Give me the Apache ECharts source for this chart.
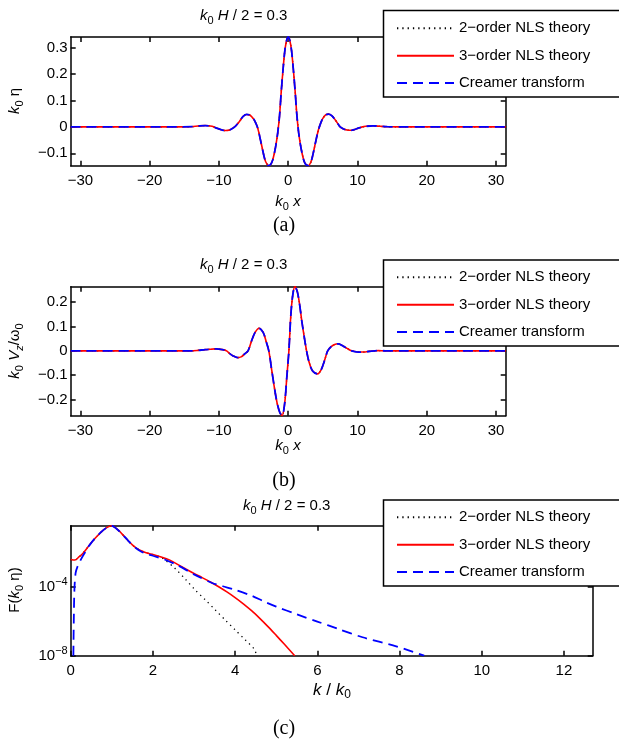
<!DOCTYPE html>
<html><head><meta charset="utf-8">
<script src="https://cdn.jsdelivr.net/npm/echarts@6/dist/echarts.min.js"></script>
<style>html,body{margin:0;padding:0;background:#fff}#c{width:619px;height:741px}</style>
</head><body><div id="c"></div>
<script>
// ---------- data ----------
const seriesNames = ['2\u2212order NLS theory', '3\u2212order NLS theory', 'Creamer transform'];

// (a) k0*eta vs k0*x  (the three curves coincide at this scale)
const xA = [-31.4,-20,-16,-14,-13,-12,-11,-10.5,-10,-9.5,-9,-8.5,-8,-7.6,-7,-6.5,-6,-5.5,-5,-4.75,-4.5,-4.25,-4,-3.75,-3.5,-3.25,-2.8,-2.5,-2.25,-2,-1.75,-1.5,-1.25,-1,-0.75,-0.5,-0.25,0,
            0.25,0.5,0.75,1,1.25,1.5,1.75,2,2.25,2.5,2.9,3.25,3.5,3.75,4,4.25,4.5,4.75,5,5.4,5.8,6.3,6.8,7.5,8,8.5,9.1,9.6,10.1,10.6,11.2,12.3,13.3,14.3,16,20,31.4];
const etaNLS2 = [0,0,0,0.0005,0.003,0.005,0.002,-0.003,-0.008,-0.012,-0.014,-0.012,-0.005,0.003,0.022,0.040,0.047,0.044,0.030,0.018,0.003,-0.020,-0.050,-0.080,-0.110,-0.132,-0.147,-0.141,-0.126,-0.100,-0.065,-0.020,0.042,0.135,0.215,0.285,0.325,0.340,
            0.325,0.285,0.215,0.135,0.045,-0.020,-0.065,-0.100,-0.126,-0.141,-0.147,-0.135,-0.113,-0.083,-0.052,-0.023,0,0.018,0.032,0.045,0.048,0.042,0.026,0,-0.008,-0.012,-0.013,-0.010,-0.005,-0.001,0.002,0.004,0.002,0.0005,0,0,0];
const etaNLS3 = etaNLS2;
const etaCreamer = etaNLS2;

// (b) k0*Vz/omega0 vs k0*x
const xB = [-31.4,-20,-16,-14,-13,-12,-11,-10.4,-9.5,-8.9,-8.5,-8,-7.3,-6.8,-6.3,-5.8,-5.3,-4.8,-4.2,-3.6,-3.2,-2.8,-2.4,-2,-1.6,-1.2,-0.87,-0.5,-0.2,0.1,0.35,0.6,0.96,1.3,1.6,2,2.3,2.65,3,3.5,4.23,4.8,5.3,5.7,6.2,6.7,7.2,7.8,8.5,9.15,9.8,10.8,12,13,14,16,20,31.4];
const vzNLS2 = [0,0,0,0,0.002,0.005,0.007,0.008,0.005,0,-0.010,-0.020,-0.028,-0.025,-0.013,0,0.040,0.075,0.093,0.075,0.040,0,-0.075,-0.150,-0.215,-0.255,-0.267,-0.214,-0.108,0,0.133,0.217,0.265,0.245,0.200,0.115,0.060,0,-0.045,-0.082,-0.095,-0.075,-0.035,0,0.017,0.026,0.029,0.022,0.010,0,-0.004,-0.005,-0.001,0.001,0,0,0,0];
const vzNLS3 = vzNLS2;
const vzCreamer = vzNLS2;

// (c) spectrum F(k0 eta) vs k/k0, given as log10 values
const kNLS2 = [0,0.1,0.2,0.3,0.4,0.5,0.6,0.7,0.8,0.9,1.0,1.1,1.2,1.3,1.4,1.5,1.6,1.7,1.8,1.9,2.0,2.1,2.2,2.3,2.54,2.79,3.03,3.28,3.52,3.76,4.0,4.25,4.46,4.53];
const logF_NLS2 = [-2.42,-2.45,-2.27,-2.05,-1.75,-1.45,-1.17,-0.92,-0.70,-0.54,-0.46,-0.60,-0.81,-1.07,-1.33,-1.57,-1.76,-1.90,-2.00,-2.07,-2.13,-2.20,-2.30,-2.45,-2.94,-3.56,-4.19,-4.77,-5.35,-5.93,-6.50,-7.09,-7.60,-8.0];
const kNLS3 = [0,0.1,0.2,0.3,0.4,0.5,0.6,0.7,0.8,0.9,1.0,1.1,1.2,1.3,1.4,1.5,1.6,1.7,1.8,1.9,2.0,2.2,2.4,2.6,2.8,3.0,3.2,3.4,3.6,3.8,4.0,4.2,4.4,4.6,4.8,5.0,5.2,5.45];
const logF_NLS3 = [-2.42,-2.45,-2.27,-2.05,-1.75,-1.45,-1.17,-0.92,-0.70,-0.54,-0.46,-0.60,-0.81,-1.07,-1.33,-1.57,-1.76,-1.90,-2.00,-2.07,-2.13,-2.27,-2.44,-2.70,-2.97,-3.23,-3.47,-3.72,-4.00,-4.30,-4.63,-4.99,-5.39,-5.83,-6.31,-6.82,-7.34,-8.0];
const kCreamer = [0.065,0.075,0.09,0.12,0.17,0.27,0.35,0.4,0.5,0.6,0.7,0.8,0.9,1.0,1.1,1.2,1.3,1.4,1.5,1.6,1.7,1.8,1.9,2.0,2.3,2.6,3.0,3.44,3.7,4.0,4.4,4.7,5.0,5.5,6.0,6.5,7.1,7.9,8.6];
const logF_Creamer = [-8.0,-6.0,-4.2,-3.2,-2.8,-2.32,-2.0,-1.78,-1.45,-1.17,-0.92,-0.70,-0.54,-0.46,-0.60,-0.81,-1.07,-1.33,-1.57,-1.78,-1.94,-2.05,-2.13,-2.20,-2.43,-2.75,-3.28,-3.78,-3.97,-4.18,-4.52,-4.85,-5.15,-5.60,-6.02,-6.44,-6.93,-7.44,-8.0];

// tick labels
const xTicksAB = [-30,-20,-10,0,10,20,30];
const yTicksA = [-0.1,0,0.1,0.2,0.3];
const yTicksB = [-0.2,-0.1,0,0.1,0.2];
const xTicksC = [0,2,4,6,8,10,12];
const yTicksC = [1e-8,1e-4];

// ---------- helpers ----------
const FONT = "'Liberation Sans', Arial, Helvetica, sans-serif";
const zip = (xs, ys) => xs.map((x, i) => [x, ys[i]]);
const zipLog = (xs, ls) => xs.map((x, i) => [x, Math.pow(10, ls[i])]);
const minus = v => String(v).replace('-', '\u2212');
const LW = 1.5;
const axisLine = {show: true, onZero: false, lineStyle: {color: '#000', width: LW}};
const rich = {
  i: {fontStyle: 'italic', fontSize: 15, fontFamily: FONT, color: '#000'},
  r: {fontSize: 15, fontFamily: FONT, color: '#000'},
  s: {fontSize: 11, fontFamily: FONT, color: '#000', padding: [9, 0, 0, 0]},
  si: {fontSize: 11, fontStyle: 'italic', fontFamily: FONT, color: '#000', padding: [9, 0, 0, 0]},
  sup: {fontSize: 11, fontFamily: FONT, color: '#000', padding: [0, 0, 9, 0]},
  b: {fontSize: 17, fontFamily: FONT, color: '#000'},
  bi: {fontSize: 17, fontStyle: 'italic', fontFamily: FONT, color: '#000'},
  bs: {fontSize: 12, fontFamily: FONT, color: '#000', padding: [10, 0, 0, 0]}
};

function xAxes(grid, min, max, ticks, type) {
  const base = {gridIndex: grid, type: type || 'value', min, max, splitLine: {show: false}, axisLine,
    axisTick: {show: true, inside: true, length: 5, customValues: ticks, lineStyle: {color: '#000', width: LW}}};
  return [
    Object.assign({}, base, {position: 'bottom',
      axisLabel: {customValues: ticks, margin: 8, fontSize: 15, fontFamily: FONT, color: '#000', formatter: minus}}),
    Object.assign({}, base, {position: 'top', axisLabel: {show: false}})
  ];
}
function yAxes(grid, min, max, ticks, type, fmt) {
  const base = {gridIndex: grid, type: type || 'value', min, max, splitLine: {show: false}, axisLine,
    axisTick: {show: true, inside: true, length: 5, customValues: ticks, lineStyle: {color: '#000', width: LW}}};
  return [
    Object.assign({}, base, {position: 'left',
      axisLabel: {customValues: ticks, margin: 3, fontSize: 15, fontFamily: FONT, color: '#000', formatter: fmt || minus, rich}}),
    Object.assign({}, base, {position: 'right', axisLabel: {show: false}})
  ];
}
function trio(ax, d2, d3, dc) {
  const common = {type: 'line', xAxisIndex: ax, yAxisIndex: ax, showSymbol: false, symbol: 'none', smooth: 0.3, animation: false};
  return [
    Object.assign({}, common, {name: seriesNames[0], data: d2, lineStyle: {color: '#000', width: 1.3, type: [1.3, 4]}, itemStyle: {color: '#000'}}),
    Object.assign({}, common, {name: seriesNames[1], data: d3, lineStyle: {color: '#ff0000', width: 1.6, type: 'solid'}, itemStyle: {color: '#ff0000'}}),
    Object.assign({}, common, {name: seriesNames[2], data: dc, lineStyle: {color: '#0000ff', width: 1.8, type: [10, 6]}, itemStyle: {color: '#0000ff'}})
  ];
}
function legendAt(top) {
  return {data: seriesNames, orient: 'vertical', left: 396, top: top, itemWidth: 57, itemHeight: 14, itemGap: 12.4,
    selectedMode: false, z: 20, padding: 0,
    itemStyle: {color: 'rgba(0,0,0,0)', borderWidth: 0, opacity: 0},
    textStyle: {fontSize: 15, fontFamily: FONT, color: '#000'}};
}
function legendBox(y, h) {
  return {type: 'rect', z: 10, shape: {x: 383.5, y: y, width: 260, height: h}, style: {fill: '#fff', stroke: '#000', lineWidth: LW}};
}
function txt(x, y, text, opts) {
  return Object.assign({type: 'text', z: 30, x, y, style: {text, rich, fontSize: 15, fontFamily: FONT, fill: '#000',
    align: 'center', verticalAlign: 'middle', textAlign: 'center', textVerticalAlign: 'middle'}}, opts || {});
}
function leftTxt(x, y, text) {
  return {type: 'text', z: 30, x, y, style: {text, rich, fontSize: 15, fontFamily: FONT, fill: '#000',
    align: 'left', verticalAlign: 'middle', textAlign: 'left', textVerticalAlign: 'middle'}};
}
function caption(y, text) {
  return {type: 'text', z: 30, x: 284, y, style: {text, fontSize: 20, fontFamily: "'Liberation Serif', 'Times New Roman', serif", fill: '#000',
    align: 'center', verticalAlign: 'middle', textAlign: 'center', textVerticalAlign: 'middle'}};
}
const titleText = '{i|k}{s|0}{r| }{i|H}{r| / 2 = 0.3}';

const option = {
  backgroundColor: '#fff',
  animation: false,
  grid: [
    {left: 70.7, top: 37, width: 435, height: 128.7},
    {left: 70.7, top: 286.7, width: 435, height: 129},
    {left: 70.7, top: 525.7, width: 522, height: 130}
  ],
  xAxis: [].concat(
    xAxes(0, -31.4, 31.4, xTicksAB),
    xAxes(1, -31.4, 31.4, xTicksAB),
    xAxes(2, 0, 12.7, xTicksC)
  ),
  yAxis: [].concat(
    yAxes(0, -0.147, 0.34, yTicksA),
    yAxes(1, -0.267, 0.264, yTicksB),
    yAxes(2, 1e-8, 0.35, yTicksC, 'log', v => '{r|10}{sup|' + minus(Math.round(Math.log10(v))) + '}')
  ),
  legend: [legendAt(20.8), legendAt(269.8), legendAt(509.8)],
  series: [].concat(
    trio(0, zip(xA, etaNLS2), zip(xA, etaNLS3), zip(xA, etaCreamer)),
    trio(2, zip(xB, vzNLS2), zip(xB, vzNLS3), zip(xB, vzCreamer)),
    trio(4, zipLog(kNLS2, logF_NLS2), zipLog(kNLS3, logF_NLS3), zipLog(kCreamer, logF_Creamer))
  ),
  graphic: [
    legendBox(10.5, 86.5), legendBox(260, 86), legendBox(500, 86),
    leftTxt(200, 16, titleText),
    leftTxt(200, 265, titleText),
    leftTxt(243, 506, titleText),
    txt(288, 202, '{i|k}{s|0}{r| }{i|x}'),
    txt(288, 446, '{i|k}{s|0}{r| }{i|x}'),
    txt(332, 690, '{bi|k}{b| / }{bi|k}{bs|0}'),
    txt(15, 101, '{i|k}{s|0}{r| \u03b7}', {rotation: Math.PI / 2}),
    txt(15, 351, '{i|k}{s|0}{r| }{i|V}{si|z}{r|/\u03c9}{s|0}', {rotation: Math.PI / 2}),
    txt(15, 590, '{r|F(}{i|k}{s|0}{r| \u03b7)}', {rotation: Math.PI / 2}),
    caption(226, '(a)'), caption(481, '(b)'), caption(729, '(c)')
  ]
};
const chart = echarts.init(document.getElementById('c'), null, {renderer: 'canvas'});
chart.setOption(option);
</script></body></html>
